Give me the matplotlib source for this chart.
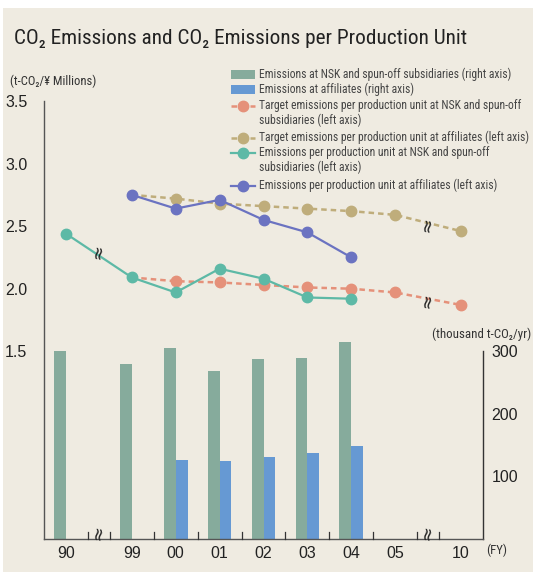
import matplotlib
matplotlib.use("Agg")
import matplotlib.pyplot as plt
from matplotlib.lines import Line2D
from matplotlib.patches import Rectangle

# ---- data -------------------------------------------------------------
years = ["90", "99", "00", "01", "02", "03", "04", "05", "10"]
# position of each fiscal year on the (broken) x axis
year_pos = [0.5, 2.0, 3.0, 4.0, 5.0, 6.0, 7.0, 8.0, 9.5]

# bars, right axis (thousand t-CO2/yr)
nsk_emis_years = ["90", "99", "00", "01", "02", "03", "04"]
nsk_emis = [300, 279, 305, 268, 287, 290, 315]
aff_emis_years = ["00", "01", "02", "03", "04"]
aff_emis = [126, 124, 131, 137, 149]

# lines, left axis (t-CO2 / ¥ millions)
nsk_unit_years = ["90", "99", "00", "01", "02", "03", "04"]
nsk_unit = [2.44, 2.09, 1.97, 2.16, 2.08, 1.93, 1.92]
aff_unit_years = ["99", "00", "01", "02", "03", "04"]
aff_unit = [2.75, 2.64, 2.71, 2.55, 2.45, 2.25]
nsk_target_years = ["99", "00", "01", "02", "03", "04", "05", "10"]
nsk_target = [2.09, 2.06, 2.05, 2.03, 2.01, 2.00, 1.97, 1.87]
aff_target_years = ["99", "00", "01", "02", "03", "04", "05", "10"]
aff_target = [2.75, 2.72, 2.68, 2.66, 2.64, 2.62, 2.59, 2.46]

left_ticks = [1.5, 2.0, 2.5, 3.0, 3.5]
right_ticks = [100, 200, 300]

# ---- style --------------------------------------------------------------
BG = "#efebe1"
C_NSK_BAR = "#86ab9c"
C_AFF_BAR = "#6699d3"
C_NSK_TGT = "#e5917a"
C_AFF_TGT = "#bfad7b"
C_NSK_LINE = "#5db9a6"
C_AFF_LINE = "#6b73c1"
AXC = "#555555"
TXT = "#222222"
NARROW = ["Roboto Condensed", "DejaVu Sans"]
REG = ["Liberation Sans", "DejaVu Sans"]

pos = dict(zip(years, year_pos))

W, H = 533, 573
fig = plt.figure(figsize=(W / 100, H / 100), dpi=100)
fig.patch.set_facecolor("white")
fig.add_artist(Rectangle((3 / W, 1 - 572 / H), 530 / W, 564 / H,
                         transform=fig.transFigure, facecolor=BG,
                         edgecolor="none", zorder=-10))

ax = fig.add_axes([44 / W, 1 - 539 / H, 439 / W, 438 / H])
ax2 = ax.twinx()
ax2.set_zorder(ax.get_zorder() - 1)
ax.patch.set_visible(False)
ax2.patch.set_visible(False)

ax.set_xlim(0, 10)
ax.set_ylim(0, 3.5)
ax2.set_ylim(0, 700)

# bars
bw = 0.27
ax2.bar([pos[y] - bw / 2 for y in nsk_emis_years], nsk_emis, width=bw,
        color=C_NSK_BAR, zorder=2)
ax2.bar([pos[y] + bw / 2 for y in aff_emis_years], aff_emis, width=bw,
        color=C_AFF_BAR, zorder=2)

# lines
ms = 7.5
dash = (0, (2.2, 1.6))
ax.plot([pos[y] for y in nsk_target_years], nsk_target, color=C_NSK_TGT,
        lw=1.8, ls=dash, marker="o", ms=ms,
        markevery=list(range(1, len(nsk_target))), zorder=3)
ax.plot([pos[y] for y in aff_target_years], aff_target, color=C_AFF_TGT,
        lw=1.8, ls=dash, marker="o", ms=ms,
        markevery=list(range(1, len(aff_target))), zorder=3)
ax.plot([pos[y] for y in nsk_unit_years], nsk_unit, color=C_NSK_LINE,
        lw=1.6, marker="o", ms=ms, zorder=4)
ax.plot([pos[y] for y in aff_unit_years], aff_unit, color=C_AFF_LINE,
        lw=1.6, marker="o", ms=ms, zorder=4)

# spines
for a in (ax, ax2):
    a.spines["top"].set_visible(False)
ax.spines["right"].set_visible(False)
ax2.spines["left"].set_visible(False)
ax2.spines["bottom"].set_visible(False)
ax.spines["left"].set_color(AXC)
ax.spines["bottom"].set_color(AXC)
ax2.spines["right"].set_color("#333333")
ax2.spines["right"].set_bounds(0, 300)
for s in (ax.spines["left"], ax.spines["bottom"], ax2.spines["right"]):
    s.set_linewidth(1.0)

# y ticks: labels only
ax.set_yticks(left_ticks)
ax.set_yticklabels([f"{v:.1f}" for v in left_ticks], family=REG,
                   fontsize=11.5, color=TXT)
ax.tick_params(axis="y", length=0, pad=12)
ax2.set_yticks(right_ticks)
ax2.set_yticklabels([str(v) for v in right_ticks], family=REG,
                    fontsize=11.5, color=TXT)
ax2.tick_params(axis="y", length=0, pad=6)

# x axis: labels at category centres, inward boundary ticks
ax.set_xticks(year_pos)
ax.set_xticklabels(years, family=REG, fontsize=11.5, color=TXT)
ax.tick_params(axis="x", length=0, pad=5)
boundaries = [1.0, 1.5, 2.5, 3.5, 4.5, 5.5, 6.5, 7.5, 8.5, 9.0]
for b in boundaries:
    ax.plot([b, b], [0, 0.055], color="#333333", lw=0.9, clip_on=False,
            zorder=5)

# axis break marks
def squiggle(x, y, axes=ax):
    axes.text(x, y, "≈", rotation=80, ha="center", va="center",
              fontsize=13, color="#222222", family=["DejaVu Sans"], zorder=6)

squiggle(1.25, 0.05)
squiggle(8.75, 0.05)
squiggle(1.25, (nsk_unit[0] + nsk_unit[1]) / 2 + 0.03)
squiggle(8.75, (nsk_target[-2] + nsk_target[-1]) / 2 - 0.015)
squiggle(8.75, (aff_target[-2] + aff_target[-1]) / 2 - 0.015)

# texts
fig.text(14 / W, 1 - 38 / H,
         "CO₂ Emissions and CO₂ Emissions per Production Unit",
         family=NARROW, fontsize=15.3, color=TXT, va="center", ha="left")
fig.text(10 / W, 1 - 81 / H, "(t-CO₂/¥ Millions)", family=NARROW,
         fontsize=9.1, color="#333333", va="center", ha="left")
fig.text(531 / W, 1 - 334 / H, "(thousand t-CO₂/yr)", family=NARROW,
         fontsize=9.3, color="#333333", va="center", ha="right")
fig.text(486 / W, 1 - 550 / H, "(FY)", family=NARROW, fontsize=9.3,
         color="#333333", va="center", ha="left")

# legend, drawn in figure space
leg = [
    ("bar", C_NSK_BAR,
     "Emissions at NSK and spun-off subsidiaries (right axis)", 74.5),
    ("bar", C_AFF_BAR, "Emissions at affiliates (right axis)", 89.5),
    ("dash", C_NSK_TGT,
     "Target emissions per production unit at NSK and spun-off\n"
     "subsidiaries (left axis)", 106),
    ("dash", C_AFF_TGT,
     "Target emissions per production unit at affiliates (left axis)", 137.5),
    ("line", C_NSK_LINE,
     "Emissions per production unit at NSK and spun-off\n"
     "subsidiaries (left axis)", 153),
    ("line", C_AFF_LINE,
     "Emissions per production unit at affiliates (left axis)", 185.5),
]
x0, x1 = 231 / W, 255 / W
for kind, col, label, yy in leg:
    yf = 1 - yy / H
    if kind == "bar":
        fig.add_artist(Rectangle((x0, yf - 4.5 / H), x1 - x0, 9 / H,
                                 transform=fig.transFigure, facecolor=col,
                                 edgecolor="none"))
    else:
        ls = dash if kind == "dash" else "-"
        lw = 1.8 if kind == "dash" else 1.6
        fig.add_artist(Line2D([x0, x1], [yf, yf], transform=fig.transFigure,
                              color=col, lw=lw, ls=ls))
        fig.add_artist(Line2D([(x0 + x1) / 2], [yf],
                              transform=fig.transFigure, color=col,
                              marker="o", ms=ms, ls="none"))
    fig.text(259 / W, yf + 7 / H, label, family=NARROW, fontsize=8.4,
             color="#444444", va="top", ha="left", linespacing=1.2)

fig.savefig("out.png", dpi=100, facecolor=fig.get_facecolor())
